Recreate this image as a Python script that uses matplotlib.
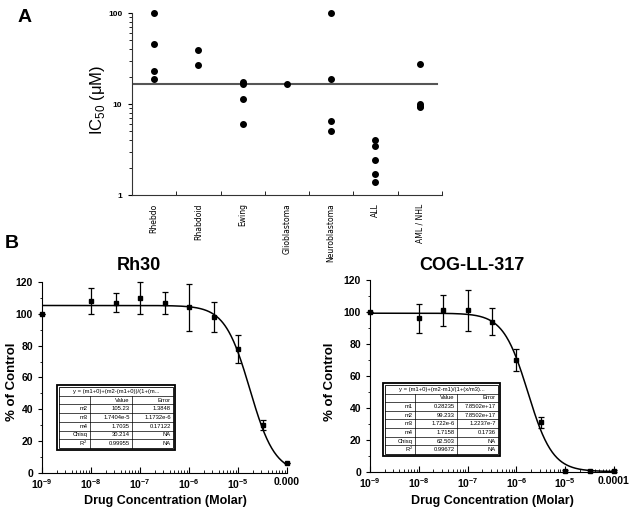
import numpy as np
import matplotlib
matplotlib.use('Agg')
import matplotlib.pyplot as plt
from matplotlib.patches import Rectangle
from matplotlib.ticker import FixedLocator, FixedFormatter, LogLocator, NullFormatter, MultipleLocator

plt.rcParams['font.family'] = ['Liberation Sans', 'DejaVu Sans']
plt.rcParams['mathtext.fontset'] = 'custom'
plt.rcParams['mathtext.rm'] = 'Liberation Sans'
plt.rcParams['mathtext.bf'] = 'Liberation Sans:bold'

# ---- Panel A: IC50 per tumour type ----
tumor_types = ['Rhebdo', 'Rhabdoid', 'Ewing', 'Glioblastoma', 'Neuroblastoma', 'ALL', 'AML / NHL']
ic50_values = [
    [100, 46, 23, 18.7],
    [39, 26.6],
    [17.4, 16.5, 11.5, 6.0],
    [16.5],
    [100, 18.7, 6.5, 5.1],
    [4.0, 3.5, 2.4, 1.7, 1.4],
    [27.3, 10.1, 9.6, 9.3],
]
ic50_median = 16.5

# ---- Panel B: dose response ----
conc = [1e-9, 1e-8, 3.16e-8, 1e-7, 3.16e-7, 1e-6, 3.16e-6, 1e-5, 3.16e-5, 1e-4]
rh30_pct = [100, 108, 107, 110, 107, 104, 98, 78, 30, 6]
rh30_err = [0, 8, 6, 10, 7, 15, 9.5, 9, 3, 0]
cog_pct = [100, 96, 101, 101, 94, 70, 31, 0.8, 0.6, 0.6]
cog_err = [0, 9, 9.5, 13, 8.5, 7, 3.5, 0.5, 0.5, 0.5]

# fit parameters (from the tables)
rh30_fit = (0.0, 105.23, 1.7404e-5, 1.7035)
cog_fit = (0.28235, 99.233, 1.722e-6, 1.7158)

rh30_header = 'y = (m1+0)+(m2-(m1+0))/(1+(m...'
rh30_rows = [
    ['', 'Value', 'Error'],
    ['m2', '105.23', '1.3848'],
    ['m3', '1.7404e-5', '1.1732e-6'],
    ['m4', '1.7035', '0.17122'],
    ['Chisq', '30.214', 'NA'],
    ['R$^2$', '0.99955', 'NA'],
]
cog_header = 'y = (m1+0)+(m2-m1)/(1+(x/m3)...'
cog_rows = [
    ['', 'Value', 'Error'],
    ['m1', '0.28235', '7.8502e+17'],
    ['m2', '99.233', '7.8502e+17'],
    ['m3', '1.722e-6', '1.2237e-7'],
    ['m4', '1.7158', '0.1736'],
    ['Chisq', '62.503', 'NA'],
    ['R$^2$', '0.99672', 'NA'],
]

rh30_xlabels = [r'$\mathbf{10^{-9}}$', r'$\mathbf{10^{-8}}$', r'$\mathbf{10^{-7}}$',
                r'$\mathbf{10^{-6}}$', r'$\mathbf{10^{-5}}$', '0.000']
cog_xlabels = rh30_xlabels[:-1] + ['0.0001']


def hill(x, m1, m2, m3, m4):
    return m1 + (m2 - m1) / (1 + (x / m3) ** m4)


def draw_fit_table(ax, box, header, rows):
    x0, y0, w, h = box
    tr = ax.transAxes
    n = len(rows) + 1
    rh = h / n
    cw = [0.27 * w, 0.37 * w, 0.36 * w]
    ax.add_patch(Rectangle((x0 - 0.008, y0 - 0.012), w + 0.016, h + 0.024, fc='white',
                           ec='black', lw=1.3, transform=tr, zorder=5))
    ax.add_patch(Rectangle((x0, y0), w, h, fill=False, ec='black', lw=0.6,
                           transform=tr, zorder=6))
    for i in range(1, n):
        yy = y0 + h - i * rh
        ax.plot([x0, x0 + w], [yy, yy], transform=tr, color='black', lw=0.5, zorder=6)
    for xv in [x0 + cw[0], x0 + cw[0] + cw[1]]:
        ax.plot([xv, xv], [y0, y0 + h - rh], transform=tr, color='black', lw=0.5, zorder=6)
    ax.text(x0 + w / 2, y0 + h - rh / 2, header, transform=tr, ha='center', va='center',
            fontsize=4.2, zorder=7)
    edges = [x0 + cw[0], x0 + cw[0] + cw[1], x0 + w]
    for i, row in enumerate(rows):
        yc = y0 + h - (i + 1.5) * rh
        for j, txt in enumerate(row):
            ax.text(edges[j] - 0.01, yc, txt, transform=tr, ha='right', va='center',
                    fontsize=4.2, zorder=7)


fig = plt.figure(figsize=(6.32, 5.14), dpi=100)

# ---------------- Panel A ----------------
axA = fig.add_axes([0.209, 0.6206, 0.490, 0.354])
for i, vals in enumerate(ic50_values):
    axA.plot([i + 0.5] * len(vals), vals, 'o', color='black', ms=4, clip_on=False, zorder=3)
axA.axhline(ic50_median, color='#555555', lw=1.5, xmax=0.985)
axA.set_yscale('log')
axA.set_ylim(1, 100)
axA.set_xlim(0, 7)
axA.spines['top'].set_visible(False)
axA.spines['right'].set_visible(False)
for s in ['left', 'bottom']:
    axA.spines[s].set_color('#333333')
axA.xaxis.set_major_locator(FixedLocator(np.arange(len(tumor_types)) + 0.5))
axA.xaxis.set_major_formatter(FixedFormatter(tumor_types))
axA.xaxis.set_minor_locator(FixedLocator(np.arange(len(tumor_types) + 1)))
axA.tick_params(axis='x', which='major', length=0, labelsize=5.5, rotation=90, pad=6)
axA.tick_params(axis='x', which='minor', length=3, direction='in')
for lab in axA.get_xticklabels():
    lab.set_family(['DejaVu Sans'])
axA.yaxis.set_major_locator(FixedLocator([1, 10, 100]))
axA.yaxis.set_major_formatter(FixedFormatter(['1', '10', '100']))
axA.yaxis.set_minor_locator(LogLocator(subs=np.arange(2, 10)))
axA.yaxis.set_minor_formatter(NullFormatter())
axA.tick_params(axis='y', which='major', length=3, labelsize=6, pad=4)
axA.tick_params(axis='y', which='minor', length=2)
for lab in axA.get_yticklabels():
    lab.set_fontweight('bold')
fig.text(97 / 632, 1 - 100 / 514, 'IC$_{50}$ (μM)', fontsize=12, rotation=90,
         ha='center', va='center')

fig.text(25 / 632, 1 - 17 / 514, 'A', fontsize=14, fontweight='bold', ha='center', va='center')
fig.text(12 / 632, 1 - 243 / 514, 'B', fontsize=14, fontweight='bold', ha='center', va='center')

# ---------------- Panel B ----------------
panels = [
    ([0.0665, 0.0798, 0.3877, 0.3716], 'Rh30', rh30_pct, rh30_err, rh30_fit,
     rh30_header, rh30_rows, rh30_xlabels, (0.069, 0.131, 0.466, 0.319), 139, 12, 165),
    ([0.5854, 0.0817, 0.3861, 0.3736], 'COG-LL-317', cog_pct, cog_err, cog_fit,
     cog_header, cog_rows, cog_xlabels, (0.061, 0.094, 0.464, 0.359), 472, 330, 492),
]
xfit = np.logspace(-9, -4, 400)
for (rect, title, pct, err, fit, header, rows, xlabels, tbox,
     title_x, ylab_x, xlab_x) in panels:
    ax = fig.add_axes(rect)
    ax.plot(xfit, hill(xfit, *fit), color='black', lw=1.1, zorder=2)
    ax.errorbar(conc, pct, yerr=err, fmt='s', color='black', ms=2.5, elinewidth=0.9,
                capsize=2, capthick=0.9, clip_on=False, zorder=3)
    ax.set_xscale('log')
    ax.set_xlim(1e-9, 1e-4)
    ax.set_ylim(0, 120)
    ax.spines['top'].set_visible(False)
    ax.spines['right'].set_visible(False)
    ax.xaxis.set_major_locator(FixedLocator([1e-9, 1e-8, 1e-7, 1e-6, 1e-5, 1e-4]))
    ax.xaxis.set_major_formatter(FixedFormatter(xlabels))
    ax.xaxis.set_minor_locator(LogLocator(subs=np.arange(2, 10)))
    ax.xaxis.set_minor_formatter(NullFormatter())
    ax.yaxis.set_major_locator(MultipleLocator(20))
    ax.yaxis.set_minor_locator(MultipleLocator(10))
    ax.tick_params(axis='x', which='major', direction='in', length=4, labelsize=7.5, pad=3)
    ax.tick_params(axis='x', which='minor', direction='in', length=2)
    ax.tick_params(axis='y', which='major', direction='out', length=3, labelsize=7.5)
    ax.tick_params(axis='y', which='minor', direction='out', length=1.5)
    for lab in ax.get_xticklabels() + ax.get_yticklabels():
        lab.set_fontweight('bold')
    draw_fit_table(ax, tbox, header, rows)
    fig.text(title_x / 632, 1 - 265 / 514, title, fontsize=13, fontweight='bold',
             ha='center', va='center')
    fig.text(ylab_x / 632, 1 - 382 / 514, '% of Control', fontsize=9.5, fontweight='bold',
             rotation=90, ha='center', va='center')
    fig.text(xlab_x / 632, 1 - 501 / 514, 'Drug Concentration (Molar)', fontsize=9,
             fontweight='bold', ha='center', va='center')

fig.savefig('out.png', dpi=100)
